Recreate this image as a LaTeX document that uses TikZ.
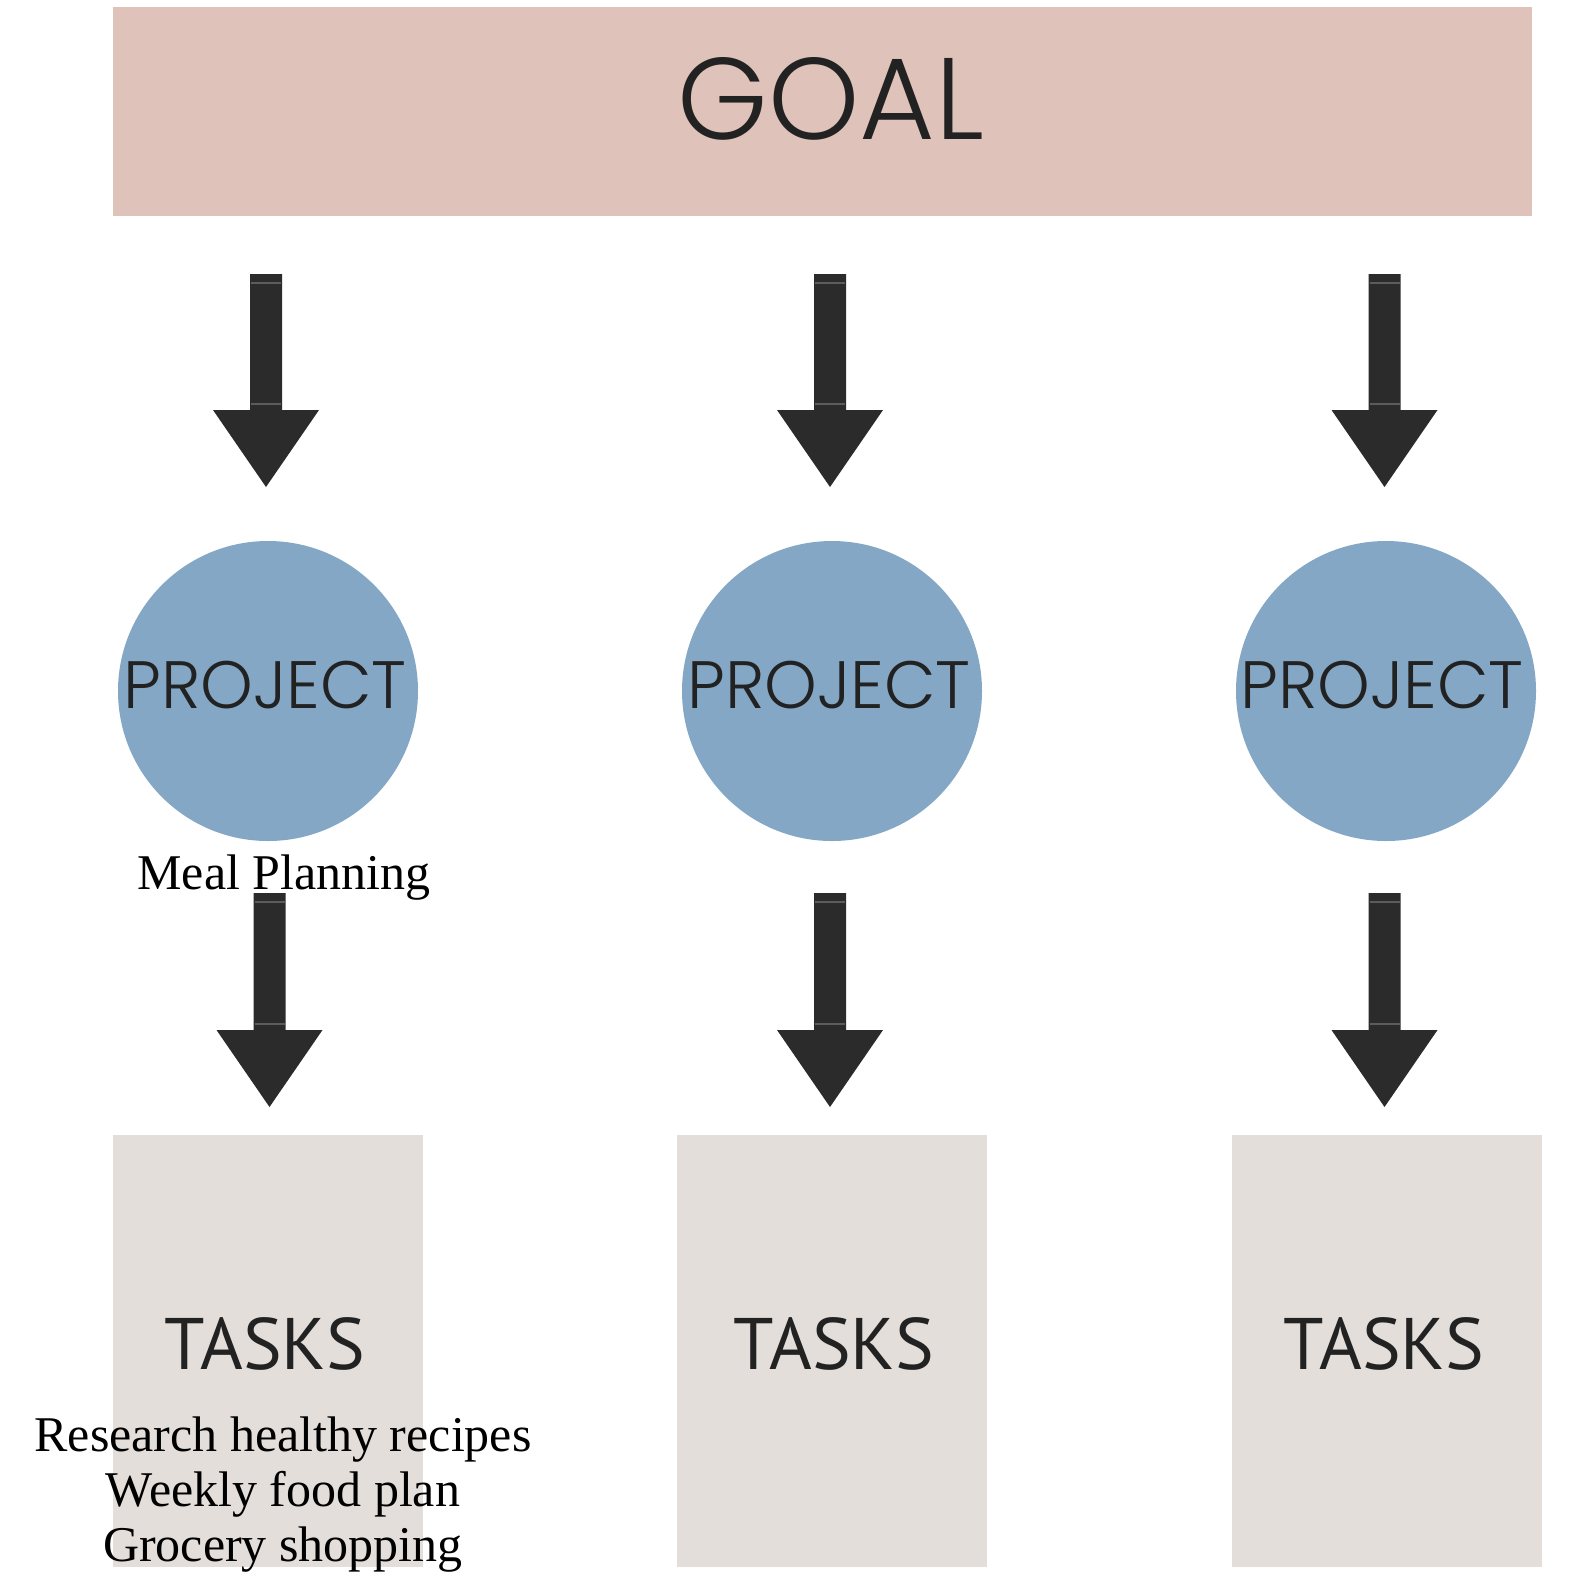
\documentclass[tikz,border=0pt]{standalone}
\usepackage{fontspec}
\setmainfont{Liberation Serif}
\newfontfamily\geofont{Poppins}[UprightFont={* Light}]
\newfontfamily\taskfont{PT Sans}
\usetikzlibrary{calc}
\definecolor{goalcol}{HTML}{DFC3BA}
\definecolor{projcol}{HTML}{83A7C5}
\definecolor{taskcol}{HTML}{E3DEDA}
\definecolor{arrowcol}{HTML}{2B2B2B}
\definecolor{inkcol}{HTML}{222222}
\definecolor{seamcol}{HTML}{5C5C5C}
\tikzset{
  goalbox/.style={rectangle, fill=goalcol, inner sep=0pt, minimum width=1419pt, minimum height=209pt},
  projcircle/.style={circle, fill=projcol, inner sep=0pt, minimum size=300pt},
  taskbox/.style={rectangle, fill=taskcol, inner sep=0pt, minimum width=310pt, minimum height=432pt},
  goaltext/.style={anchor=base, inner sep=0pt, text=inkcol, font=\geofont\fontsize{116}{116}\selectfont},
  projtext/.style={anchor=base, inner sep=0pt, text=inkcol, font=\geofont\fontsize{67}{67}\selectfont},
  tasktext/.style={anchor=base, inner sep=0pt, text=inkcol, font=\taskfont\fontsize{73}{73}\selectfont},
  serifnote/.style={anchor=base, inner sep=0pt, text=black, align=center, font=\fontsize{50}{55}\selectfont},
  blockarrow/.style={fill=arrowcol, to path={let \p1=(\tikztostart), \p2=(\tikztotarget) in
    (\x1-16pt,\y1) -- (\x1+16pt,\y1) -- (\x1+16pt,\y2+77pt) -- (\x1+53pt,\y2+77pt)
    -- (\x1,\y2) -- (\x1-53pt,\y2+77pt) -- (\x1-16pt,\y2+77pt) -- cycle}},
  shaftseams/.style={draw=seamcol, line width=1.2pt, to path={let \p1=(\tikztostart), \p2=(\tikztotarget) in
    (\x1-15pt,\y1-9pt) -- (\x1+15pt,\y1-9pt) (\x1-15pt,\y2+83pt) -- (\x1+15pt,\y2+83pt)}}
}
\begin{document}
\begin{tikzpicture}[x=1pt,y=-1pt]
\useasboundingbox (0,0) rectangle (1594,1580);

% goal
\node[goalbox] (goal) at (822.5,111.5) {};
\node[goaltext] (goallbl) at (831,139) {GOAL};

% projects
\node[projcircle] (p1) at (268,691) {};
\node[projcircle] (p2) at (832,691) {};
\node[projcircle] (p3) at (1386,691) {};
\node[projtext] (p1lbl) at (265,708) {PROJECT};
\node[projtext] (p2lbl) at (829,708) {PROJECT};
\node[projtext] (p3lbl) at (1382,708) {PROJECT};

% tasks
\node[taskbox] (t1) at (268,1351) {};
\node[taskbox] (t2) at (832,1351) {};
\node[taskbox] (t3) at (1386.5,1351) {};
\node[tasktext] (t1lbl) at (265,1369) {TASKS};
\node[tasktext] (t2lbl) at (834,1369) {TASKS};
\node[tasktext] (t3lbl) at (1384,1369) {TASKS};

% arrow end points
\coordinate (a1s) at (266,274);   \coordinate (a1e) at (266,487);
\coordinate (a2s) at (830,274);   \coordinate (a2e) at (830,487);
\coordinate (a3s) at (1384.5,274);\coordinate (a3e) at (1384.5,487);
\coordinate (b1s) at (269.5,893); \coordinate (b1e) at (269.5,1107);
\coordinate (b2s) at (830,893);   \coordinate (b2e) at (830,1107);
\coordinate (b3s) at (1384.5,893);\coordinate (b3e) at (1384.5,1107);

\foreach \s/\e in {a1s/a1e,a2s/a2e,a3s/a3e,b1s/b1e,b2s/b2e,b3s/b3e}{
  \path[blockarrow] (\s) to (\e);
  \path[shaftseams] (\s) to (\e);
}

% notes
\node[serifnote] (meal) at (284,889) {Meal Planning};
\node[serifnote] (steps) at (283,1561) {Research healthy recipes\\Weekly food plan\\Grocery shopping};
\end{tikzpicture}
\end{document}
